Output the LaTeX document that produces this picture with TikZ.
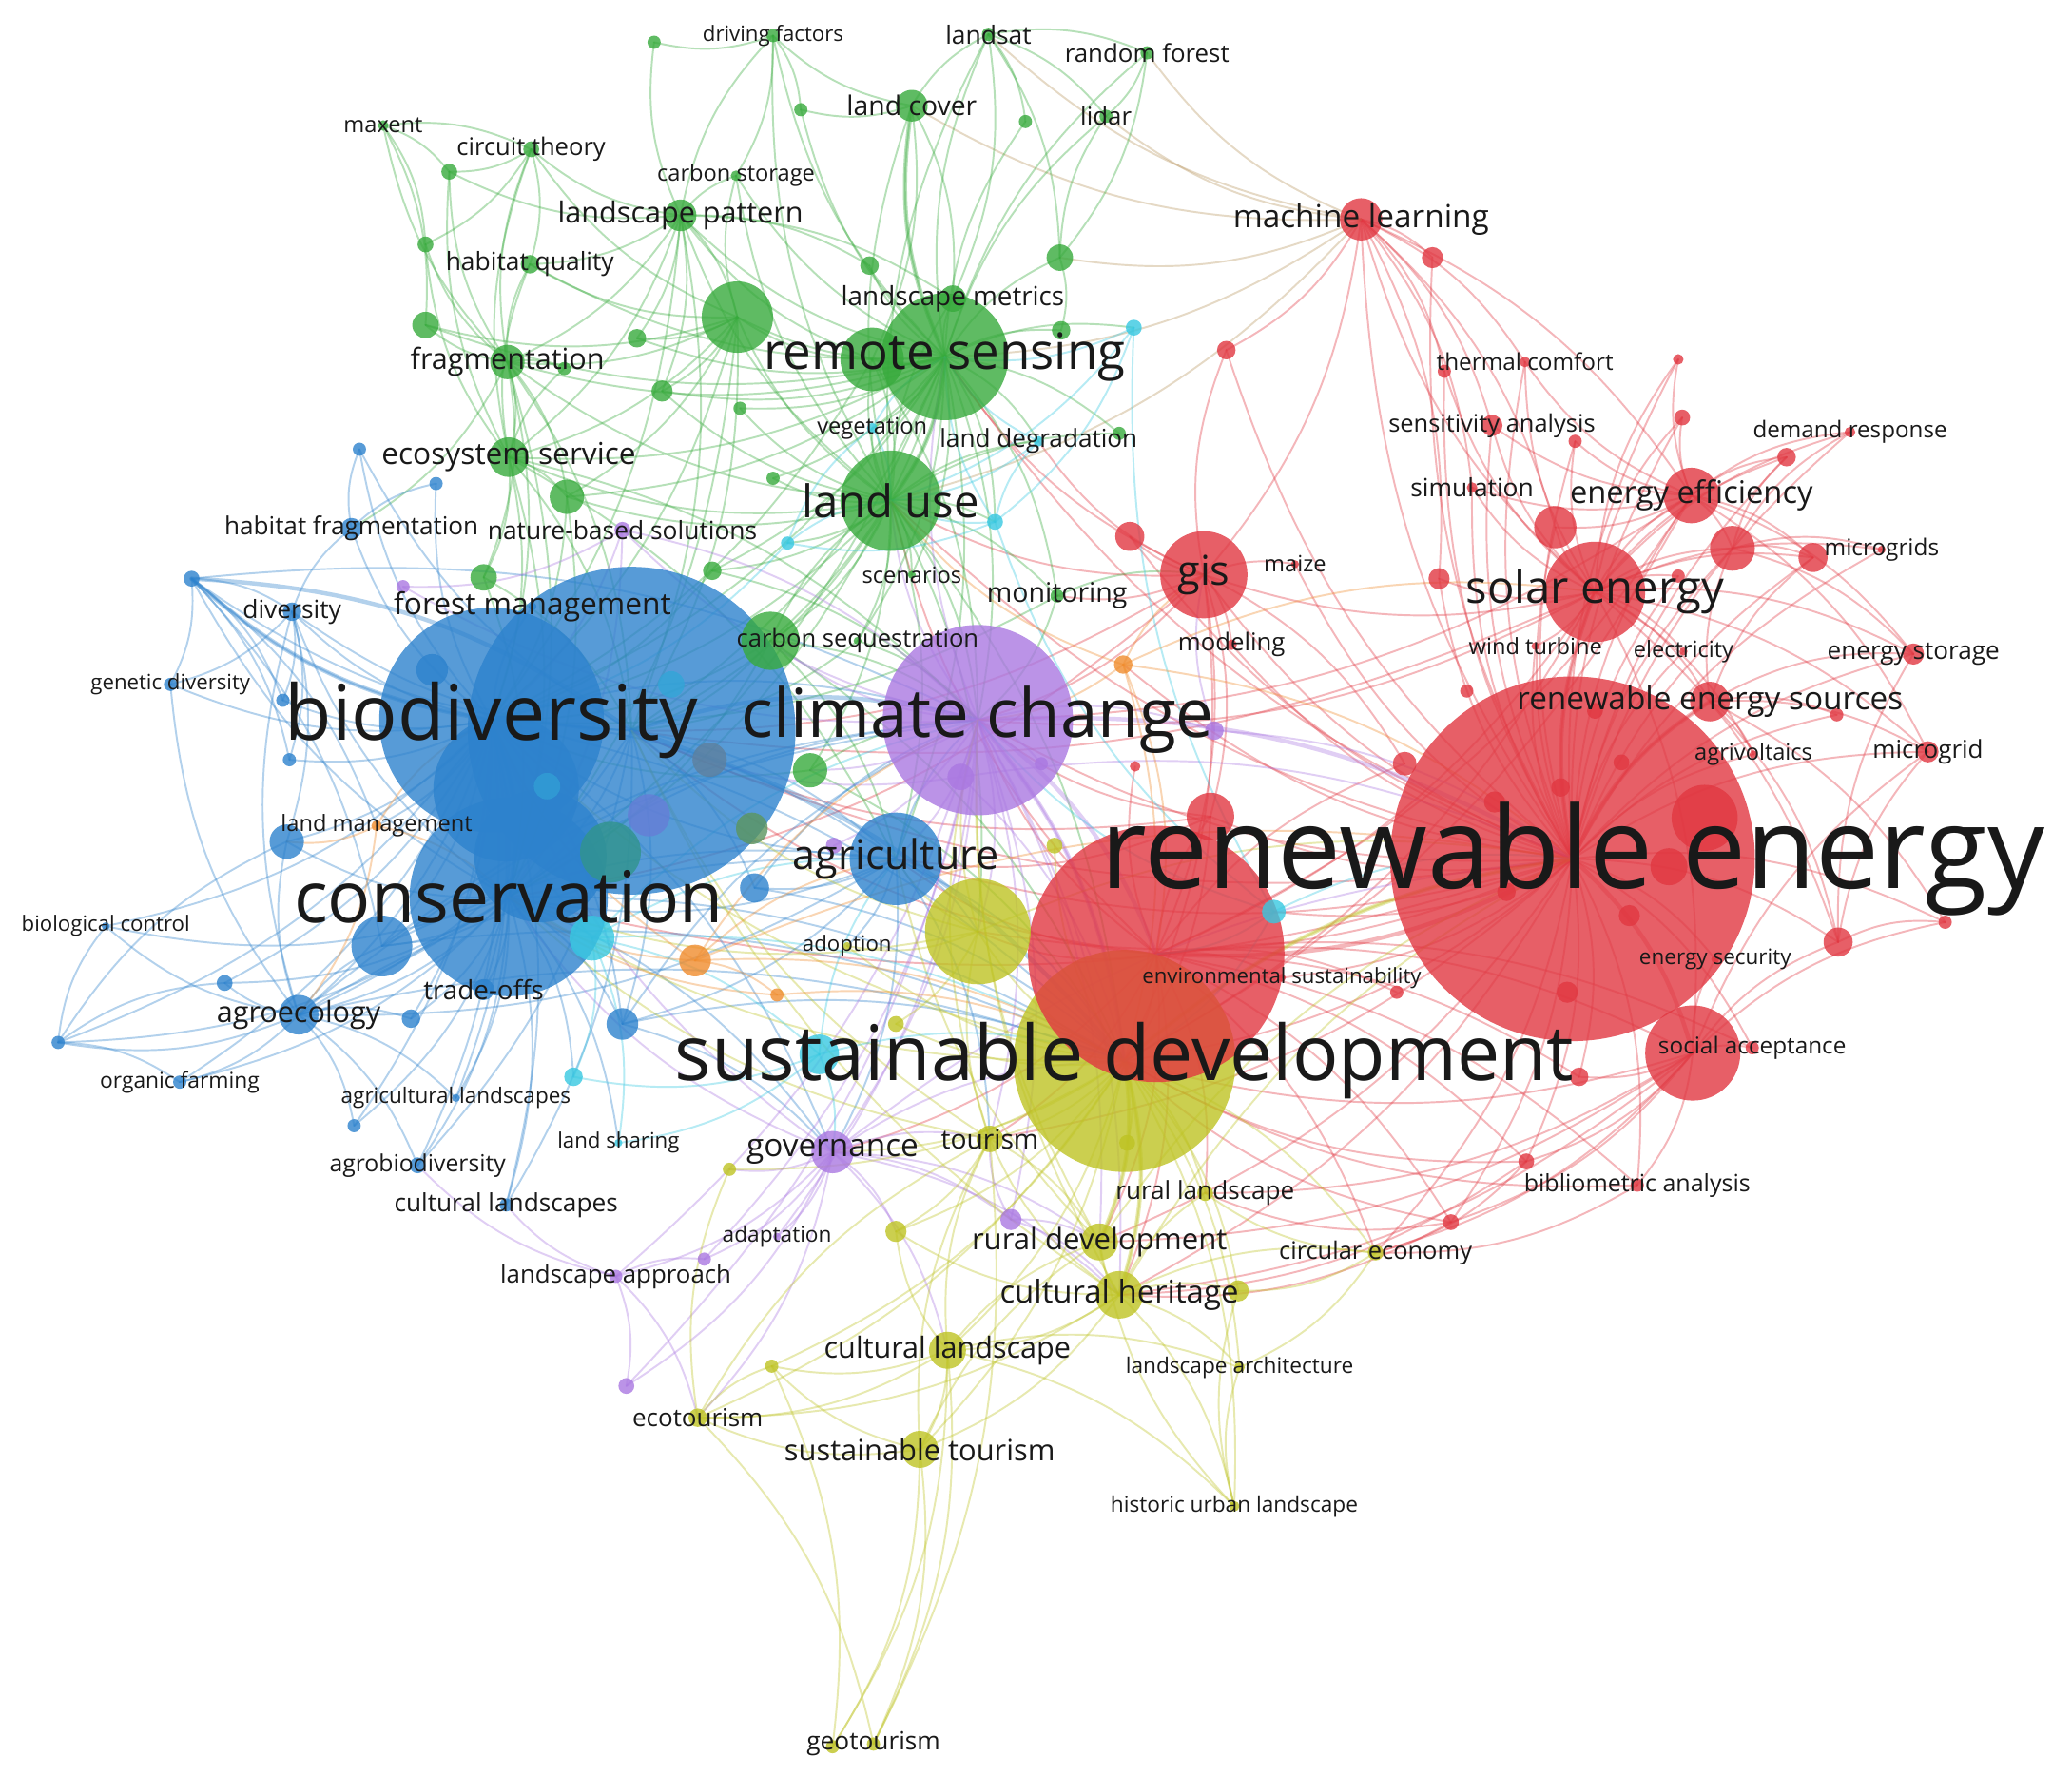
\documentclass[tikz,border=0pt]{standalone}
\usepackage{fontspec}
\setmainfont{Open Sans}
\definecolor{kwred}{RGB}{225,55,65}
\definecolor{kwgreen}{RGB}{55,170,60}
\definecolor{kwblue}{RGB}{45,130,205}
\definecolor{kwpurple}{RGB}{170,120,225}
\definecolor{kwyellow}{RGB}{190,195,35}
\definecolor{kwcyan}{RGB}{55,200,225}
\definecolor{kworange}{RGB}{240,140,45}
\definecolor{kwtan}{RGB}{185,150,95}
\pgfdeclarelayer{edges}
\pgfdeclarelayer{labels}
\pgfsetlayers{edges,main,labels}
\tikzset{
  keyword/.style = {circle, inner sep=0pt, draw=none, fill opacity=0.8},
  term/.style = {inner sep=0pt, text=black!90},
  link/.style = {line width=1.4pt, draw opacity=0.36, line cap=round},
  strong/.style = {line width=3.2pt},
  red link/.style = {link, draw=kwred},
  green link/.style = {link, draw=kwgreen},
  blue link/.style = {link, draw=kwblue},
  purple link/.style = {link, draw=kwpurple},
  yellow link/.style = {link, draw=kwyellow},
  cyan link/.style = {link, draw=kwcyan},
  orange link/.style = {link, draw=kworange},
  mixed link/.style = {link, draw=kwtan},
}
\newcommand{\kwdot}[4]{%
  %% A keyword circle without label: name, position, radius, colour
  \node [keyword, fill=#4, minimum size=2*#3] (#1) at (#2) {};
}
\newcommand{\kwnode}[6]{%
  %% A keyword circle with its label on top:
  %%    1. Name  2. Position  3. Radius  4. Colour  5. Label  6. Font size
  \kwdot{#1}{#2}{#3}{#4}
  \begin{pgfonlayer}{labels}
    \node [term, font={\fontsize{#6}{#6}\selectfont}] (#1_label) at (#2) {#5};
  \end{pgfonlayer}
}
\newcommand{\kwlinks}[3]{%
  %% Links from one keyword to a list of keywords
  \foreach \kwto in {#3}{%
    \draw [#1] (#2.center) to [bend left=16] (\kwto.center);
  }%
}

\begin{document}
\begin{tikzpicture}[x=1pt, y=-1pt]
  \useasboundingbox (0,0) rectangle (1568,1344);
  \begin{pgfonlayer}{edges}
    \fill [white] (0,0) rectangle (1568,1344);
  \end{pgfonlayer}

  %% Largest circles first
  \kwnode{sustdev}{851,803}{84}{kwyellow}{sustainable development}{58}
  \kwdot{energyB}{875,722}{97}{kwred}
  \kwnode{renewable}{1190,650}{138}{kwred}{renewable energy}{86}
  \kwdot{bioB}{478,553}{124}{kwblue}
  \kwnode{biodiversity}{372,545}{85}{kwblue}{biodiversity}{58}
  \kwdot{bC}{383,597}{55}{kwblue}
  \kwdot{bD}{409,648}{50}{kwblue}
  \kwnode{conservation}{385,679}{75}{kwblue}{conservation}{54}
  \kwnode{climate}{740,545}{72}{kwpurple}{climate change}{51}
  \kwnode{remote}{715,270}{48}{kwgreen}{remote sensing}{38}
  \kwnode{landuse}{674,379}{38}{kwgreen}{land use}{34}
  \kwnode{agriculture}{678,650}{35}{kwblue}{agriculture}{31}
  \kwdot{yA}{740,705}{40}{kwyellow}
  \kwnode{solar}{1207,448}{38}{kwred}{solar energy}{34}
  \kwdot{socialB}{1281,797}{36}{kwred}
  \kwnode{gis}{911,435}{33}{kwred}{gis}{31}

  %% Red cluster
  \kwdot{rA}{1290,619}{25}{kwred}
  \kwdot{rB}{1263,656}{14}{kwred}
  \kwdot{rC}{1177,399}{16}{kwred}
  \kwdot{rD}{1311,415}{17}{kwred}
  \kwdot{rE}{1372,422}{11}{kwred}
  \kwdot{rF}{916,618}{18}{kwred}
  \kwdot{rG}{855,406}{11}{kwred}
  \kwdot{rH}{1391,713}{11}{kwred}
  \kwdot{rI}{1084,195}{8}{kwred}
  \kwdot{rJ}{928,265}{7}{kwred}
  \kwdot{rK}{1089,438}{8}{kwred}
  \kwdot{rL}{1063,578}{9}{kwred}
  \kwdot{rM}{1352,346}{7}{kwred}
  \kwdot{rN}{1273,316}{6}{kwred}
  \kwdot{rO}{1270,272}{4}{kwred}
  \kwdot{rP}{1093,281}{5}{kwred}
  \kwdot{rQ}{1192,334}{5}{kwred}
  \kwdot{rR}{1270,436}{5}{kwred}
  \kwdot{rS}{1110,523}{5}{kwred}
  \kwdot{rT}{1390,541}{5}{kwred}
  \kwdot{rU}{1472,698}{5}{kwred}
  \kwdot{rV}{1155,879}{6}{kwred}
  \kwdot{rW}{1098,925}{6}{kwred}
  \kwdot{rX}{1195,815}{7}{kwred}
  \kwdot{rY}{1057,751}{5}{kwred}
  \kwdot{rZ}{859,580}{4}{kwred}
  \kwdot{rAa}{1181,596}{7}{kwred}
  \kwdot{rAb}{1227,577}{6}{kwred}
  \kwdot{rAc}{1131,607}{8}{kwred}
  \kwdot{rAd}{1233,693}{8}{kwred}
  \kwdot{rAe}{1186,751}{8}{kwred}
  \kwdot{rAf}{1140,675}{7}{kwred}
  \kwdot{rAg}{1207,538}{6}{kwred}
  \kwnode{sources}{1294,531}{15}{kwred}{renewable energy sources}{24}
  \kwnode{efficiency}{1280,375}{21}{kwred}{energy efficiency}{23.5}
  \kwnode{machine}{1030,166}{16}{kwred}{machine learning}{24}
  \kwnode{social}{1326,793}{5}{kwred}{social acceptance}{17.5}
  \kwnode{thermal}{1154,274}{4}{kwred}{thermal comfort}{17.5}
  \kwnode{sensitivity}{1129,322}{8}{kwred}{sensitivity analysis}{18.3}
  \kwnode{demand}{1400,327}{4}{kwred}{demand response}{17.4}
  \kwnode{simulation}{1114,369}{4}{kwred}{simulation}{19}
  \kwnode{microgrids}{1424,416}{3}{kwred}{microgrids}{17.5}
  \kwnode{storage}{1448,495}{8}{kwred}{energy storage}{18.8}
  \kwnode{microgrid}{1459,569}{8}{kwred}{microgrid}{18.7}
  \kwnode{agrivoltaics}{1327,571}{3}{kwred}{agrivoltaics}{17}
  \kwnode{electricity}{1274,493}{3}{kwred}{electricity}{17}
  \kwnode{wind}{1162,489}{3}{kwred}{wind turbine}{17}
  \kwnode{security}{1298,726}{3}{kwred}{energy security}{16.2}
  \kwnode{envsust}{970,740}{3}{kwred}{environmental sustainability}{16}
  \kwnode{biblio}{1239,897}{5}{kwred}{bibliometric analysis}{18}
  \kwnode{maize}{980,427}{3}{kwred}{maize}{17}
  \kwnode{modeling}{932,488}{4}{kwred}{modeling}{18.5}

  %% Green cluster
  \kwdot{gA}{660,272}{24}{kwgreen}
  \kwdot{gB}{558,240}{27}{kwgreen}
  \kwdot{gC}{495,32}{5}{kwgreen}
  \kwdot{gD}{606,83}{5}{kwgreen}
  \kwdot{gE}{776,92}{5}{kwgreen}
  \kwdot{gF}{658,201}{7}{kwgreen}
  \kwdot{gG}{802,195}{10}{kwgreen}
  \kwdot{gH}{803,250}{7}{kwgreen}
  \kwdot{gI}{501,296}{8}{kwgreen}
  \kwdot{gJ}{560,309}{5}{kwgreen}
  \kwdot{gK}{585,362}{5}{kwgreen}
  \kwdot{gL}{539,432}{7}{kwgreen}
  \kwdot{gM}{322,246}{10}{kwgreen}
  \kwdot{gN}{322,185}{6}{kwgreen}
  \kwdot{gO}{340,130}{6}{kwgreen}
  \kwdot{gP}{482,256}{7}{kwgreen}
  \kwdot{gR}{429,376}{13}{kwgreen}
  \kwdot{gS}{366,437}{10}{kwgreen}
  \kwdot{gT}{583,485}{22}{kwgreen}
  \kwdot{gU}{613,583}{13}{kwgreen}
  \kwdot{gV}{427,279}{5}{kwgreen}
  \kwdot{gW}{847,328}{5}{kwgreen}
  \kwnode{metrics}{721,226}{10}{kwgreen}{landscape metrics}{20}
  \kwnode{pattern}{515,163}{12}{kwgreen}{landscape pattern}{22}
  \kwnode{cover}{690,80}{12}{kwgreen}{land cover}{20.4}
  \kwnode{landsat}{748,26}{5}{kwgreen}{landsat}{19}
  \kwnode{forest}{868,40}{5}{kwgreen}{random forest}{18.6}
  \kwnode{lidar}{837,88}{5}{kwgreen}{lidar}{18.6}
  \kwnode{driving}{585,27}{5}{kwgreen}{driving factors}{16}
  \kwnode{storageC}{557,133}{4}{kwgreen}{carbon storage}{17}
  \kwnode{scenarios}{690,435}{3}{kwgreen}{scenarios}{17}
  \kwnode{monitoring}{800,451}{5}{kwgreen}{monitoring}{20.5}
  \kwnode{sequestration}{649,485}{3}{kwgreen}{carbon sequestration}{18.4}
  \kwnode{fragmentation}{384,274}{13}{kwgreen}{fragmentation}{22}
  \kwnode{circuit}{402,113}{6}{kwgreen}{circuit theory}{18.4}
  \kwnode{maxent}{290,95}{4}{kwgreen}{maxent}{17}
  \kwnode{quality}{401,200}{7}{kwgreen}{habitat quality}{19}
  \kwnode{ecoservice}{385,346}{15}{kwgreen}{ecosystem service}{22.8}

  %% Blue cluster
  \kwdot{bF}{289,716}{23}{kwblue}
  \kwdot{bG}{217,637}{13}{kwblue}
  \kwdot{bH}{145,438}{6}{kwblue}
  \kwdot{bI}{272,340}{5}{kwblue}
  \kwdot{bJ}{330,366}{5}{kwblue}
  \kwdot{bK}{214,530}{5}{kwblue}
  \kwdot{bL}{219,575}{5}{kwblue}
  \kwdot{bM}{170,744}{6}{kwblue}
  \kwdot{bN}{44,789}{5}{kwblue}
  \kwdot{bO}{311,771}{7}{kwblue}
  \kwdot{bP}{268,852}{5}{kwblue}
  \kwdot{bQ}{471,775}{12}{kwblue}
  \kwdot{bR}{571,672}{11}{kwblue}
  \kwdot{bS}{327,507}{12}{kwblue}
  \kwdot{bT}{491,617}{16}{kwblue!55!kwpurple}
  \kwdot{bU}{537,575}{13}{gray!60!kwblue}
  \kwdot{bV}{508,518}{10}{kwcyan!50!kwblue}
  \kwdot{bW}{462,645}{23}{kwgreen!45!kwblue}
  \kwdot{bX}{569,627}{12}{gray!50!kwgreen}
  \kwdot{bY}{414,595}{10}{kwcyan!40!kwblue}
  \kwnode{agroecology}{226,768}{15}{kwblue}{agroecology}{22}
  \kwnode{tradeoffs}{366,749}{8}{kwblue}{trade-offs}{20}
  \kwnode{diversity}{221,463}{7}{kwblue}{diversity}{19}
  \kwnode{habitatfrag}{266,400}{8}{kwblue}{habitat fragmentation}{18.8}
  \kwnode{genetic}{129,518}{5}{kwblue}{genetic diversity}{16}
  \kwnode{biocontrol}{80,701}{3}{kwblue}{biological control}{16}
  \kwnode{organic}{136,819}{5}{kwblue}{organic farming}{16.4}
  \kwnode{agrilandscapes}{345,831}{3}{kwblue}{agricultural landscapes}{16.2}
  \kwnode{agrobiodiversity}{316,882}{6}{kwblue}{agrobiodiversity}{17.8}
  \kwnode{culturallandscapes}{383,912}{5}{kwblue}{cultural landscapes}{18.9}
  \kwnode{forestmgmt}{403,459}{3}{kwblue}{forest management}{22.8}

  %% Cyan and orange clusters
  \kwdot{cA}{448,710}{17}{kwcyan}
  \kwdot{cB}{434,815}{7}{kwcyan}
  \kwdot{cC}{620,798}{15}{kwcyan}
  \kwdot{cD}{964,690}{9}{kwcyan}
  \kwdot{cE}{858,248}{6}{kwcyan}
  \kwdot{cF}{753,395}{6}{kwcyan}
  \kwdot{cG}{596,411}{5}{kwcyan}
  \kwnode{vegetation}{660,324}{4}{kwcyan}{vegetation}{17}
  \kwnode{degradation}{786,334}{4}{kwcyan}{land degradation}{18.8}
  \kwnode{sharing}{468,865}{3}{kwcyan}{land sharing}{16}
  \kwdot{oA}{526,727}{12}{kworange}
  \kwdot{oB}{850,503}{7}{kworange}
  \kwdot{oC}{588,753}{5}{kworange}
  \kwnode{landmgmt}{285,625}{4}{kworange}{land management}{17}

  %% Purple cluster
  \kwdot{pA}{727,588}{10}{kwpurple}
  \kwdot{pB}{919,553}{7}{kwpurple}
  \kwdot{pC}{788,578}{5}{kwpurple}
  \kwdot{pD}{533,953}{5}{kwpurple}
  \kwdot{pE}{474,1049}{6}{kwpurple}
  \kwdot{pF}{765,923}{8}{kwpurple}
  \kwdot{pG}{305,444}{5}{kwpurple}
  \kwdot{pH}{631,640}{6}{kwpurple}
  \kwnode{governance}{630,872}{16}{kwpurple}{governance}{24}
  \kwnode{adaptation}{588,936}{3}{kwpurple}{adaptation}{16.3}
  \kwnode{approach}{466,966}{5}{kwpurple}{landscape approach}{18.6}
  \kwnode{nbs}{471,401}{6}{kwpurple}{nature-based solutions}{19}

  %% Yellow cluster
  \kwdot{yB}{937,977}{8}{kwyellow}
  \kwdot{yC}{678,932}{8}{kwyellow}
  \kwdot{yD}{584,1034}{5}{kwyellow}
  \kwdot{yE}{552,885}{5}{kwyellow}
  \kwdot{yF}{798,640}{6}{kwyellow}
  \kwdot{yG}{630,1322}{5}{kwyellow}
  \kwdot{yH}{678,775}{6}{kwyellow}
  \kwdot{yI}{853,865}{6}{kwyellow}
  \kwnode{tourism}{749,862}{10}{kwyellow}{tourism}{20.3}
  \kwnode{rurallandscape}{912,903}{6}{kwyellow}{rural landscape}{18.8}
  \kwnode{ruraldev}{832,940}{14}{kwyellow}{rural development}{22.4}
  \kwnode{heritage}{847,980}{18}{kwyellow}{cultural heritage}{23.7}
  \kwnode{circular}{1041,948}{6}{kwyellow}{circular economy}{18.3}
  \kwnode{culturallandscape}{717,1022}{14}{kwyellow}{cultural landscape}{22}
  \kwnode{architecture}{938,1035}{4}{kwyellow}{landscape architecture}{16.3}
  \kwnode{ecotourism}{528,1073}{7}{kwyellow}{ecotourism}{18.7}
  \kwnode{susttourism}{696,1097}{14}{kwyellow}{sustainable tourism}{22.2}
  \kwnode{historic}{934,1140}{4}{kwyellow}{historic urban landscape}{16.3}
  \kwnode{geotourism}{661,1320}{5}{kwyellow}{geotourism}{18.9}
  \kwnode{adoption}{641,716}{3}{kwyellow}{adoption}{16}

  %% Co-occurrence links, behind the circles
  \begin{pgfonlayer}{edges}
    \kwlinks{red link}{renewable}{solar,gis,machine,efficiency,sources,social,thermal,sensitivity,demand,simulation,microgrids,storage,microgrid,agrivoltaics,electricity,wind,security,envsust,biblio,maize,modeling,rC,rD,rE,rF,rG,rH,rI,rJ,rK,rM,rN,rO,rP,rQ,rR,rT,rU,rV,rW,rX}
    \kwlinks{red link}{solar}{efficiency,sources,storage,microgrid,microgrids,rC,rD,rE,simulation,sensitivity,thermal,demand,electricity,wind,agrivoltaics,machine,rM,rN,rO,socialB,rK,rQ,rR,rP,rH}
    \kwlinks{red link}{efficiency}{rC,rD,demand,rM,rN,rQ,simulation,microgrid,storage,sensitivity,rO,thermal,rE}
    \kwlinks{red link}{machine}{gis,rI,thermal,sensitivity,rJ,rP,simulation,rK,efficiency,rC}
    \kwlinks{red link}{gis}{rG,maize,modeling,rJ,rF,energyB,rL}
    \kwlinks{red link}{energyB}{rF,rL,envsust,rY,biblio,rW,rV,social,socialB,rX,rZ}
    \kwlinks{red link}{socialB}{biblio,rV,rW,rX,rH,rU,security,social,microgrid}
    \kwlinks{red link}{sources}{microgrid,agrivoltaics,rT,storage,rD,rE,rH,rU}
    \kwlinks{red link}{rD}{microgrids,rM,demand,storage,rE}
    \kwlinks{red link}{rH}{rU,microgrid,storage}
    \kwlinks{red link,strong}{renewable}{solar,energyB,socialB,sources}
    \kwlinks{red link}{renewable}{sustdev,climate,bioB,conservation,landuse,remote,agriculture,yA,tourism,circular,ruraldev,heritage,cD,oB}
    \kwlinks{red link}{energyB}{sustdev,climate,bioB,agriculture,yA,tourism,ruraldev,heritage,circular,rurallandscape,governance,landuse}
    \kwlinks{red link}{gis}{remote,landuse,climate,monitoring,degradation,sustdev,bioB,conservation}
    \kwlinks{red link}{solar}{climate,sustdev,energyB,gis,bioB}
    \kwlinks{red link}{efficiency}{sustdev,climate,energyB}
    \kwlinks{red link}{rF}{climate,sustdev,bioB,agriculture}
    \kwlinks{red link}{socialB}{sustdev,heritage,circular,ruraldev,rurallandscape}
    \kwlinks{red link}{rV}{sustdev,heritage,circular}
    \kwlinks{red link}{rW}{sustdev,rurallandscape,heritage}
    \kwlinks{red link}{biblio}{sustdev,circular}
    \kwlinks{mixed link}{machine}{remote,forest,lidar,landsat,cover,gG,landuse}

    \kwlinks{green link}{remote}{landuse,gA,gB,metrics,pattern,cover,landsat,forest,lidar,driving,storageC,gD,gE,gF,gG,gH,gI,gJ,gK,vegetation,degradation,scenarios,monitoring,fragmentation,ecoservice,quality,gR,gP,gM,cE,cF,gL,sequestration,gT,gW}
    \kwlinks{green link}{landuse}{gA,gB,metrics,pattern,cover,landsat,driving,storageC,gI,gJ,gK,gL,vegetation,degradation,scenarios,monitoring,sequestration,fragmentation,ecoservice,gR,gT,gU,cF,cG,gW}
    \kwlinks{green link}{pattern}{storageC,gB,fragmentation,quality,circuit,gO,gC,gP,gI,metrics,gF,driving,ecoservice}
    \kwlinks{green link}{gB}{fragmentation,quality,ecoservice,gM,gP,gI,storageC,circuit,gR}
    \kwlinks{green link}{fragmentation}{gM,gN,gO,circuit,maxent,quality,ecoservice,gR,gV,gS,habitatfrag}
    \kwlinks{green link}{ecoservice}{quality,gN,gO,gR,gS,circuit,gV}
    \kwlinks{green link}{maxent}{gO,circuit,gN,gM}
    \kwlinks{green link}{circuit}{gO,quality,gN}
    \kwlinks{green link}{cover}{landsat,gD,driving,metrics,gA}
    \kwlinks{green link}{landsat}{lidar,forest,gE,gG,metrics}
    \kwlinks{green link}{forest}{lidar,gG}
    \kwlinks{green link}{driving}{gC,gD,storageC}
    \kwlinks{green link}{gG}{lidar,gH}
    \kwlinks{green link}{landuse}{biodiversity,bioB,conservation,climate,sustdev,agriculture,yA}
    \kwlinks{green link}{remote}{biodiversity,bioB,climate,conservation,agriculture}
    \kwlinks{green link}{gB}{biodiversity,bioB,conservation}
    \kwlinks{green link}{fragmentation}{biodiversity,conservation,bioB}
    \kwlinks{green link}{ecoservice}{biodiversity,bioB,conservation,agriculture,climate}
    \kwlinks{green link}{pattern}{biodiversity,bioB}
    \kwlinks{green link}{gT}{biodiversity,climate,sustdev,conservation,agriculture,bioB,landuse}
    \kwlinks{green link}{gR}{biodiversity,conservation}
    \kwlinks{green link}{gA}{biodiversity,climate,landuse,gB,pattern}
    \kwlinks{green link}{gU}{climate,biodiversity,sustdev}
    \kwlinks{green link}{gL}{biodiversity,climate}
    \kwlinks{green link}{gS}{conservation,bioB}
    \kwlinks{green link}{monitoring}{climate,biodiversity,gis}
    \kwlinks{green link}{sequestration}{climate,bioB}
    \kwlinks{green link,strong}{remote}{landuse,gA,cover}

    \kwlinks{blue link}{biodiversity}{conservation,diversity,genetic,habitatfrag,bH,bI,bJ,bK,bL,landmgmt,bM,bN,organic,biocontrol,agroecology,tradeoffs,bF,bG,bO,agrilandscapes,bP,agrobiodiversity,culturallandscapes,bQ,forestmgmt}
    \kwlinks{blue link}{bioB}{conservation,agriculture,diversity,bH,bI,bQ,bR,agroecology,agrobiodiversity,culturallandscapes}
    \kwlinks{blue link}{conservation}{agroecology,bF,bG,bM,bO,tradeoffs,agrilandscapes,agrobiodiversity,culturallandscapes,bP,bN,organic,biocontrol,diversity,bH,bQ,sharing,cB}
    \kwlinks{blue link}{bH}{diversity,genetic,bK,bL,bF,landmgmt,climate}
    \kwlinks{blue link}{agroecology}{biocontrol,bN,organic,bM,bP,agrobiodiversity,agrilandscapes,bO,bF,bG,diversity,genetic,climate,sustdev,agriculture}
    \kwlinks{blue link}{bN}{biocontrol,organic,bM,bG}
    \kwlinks{blue link}{diversity}{bK,bL,genetic,bG,habitatfrag}
    \kwlinks{blue link}{habitatfrag}{bI,bJ}
    \kwlinks{blue link}{agriculture}{agroecology,bQ,bR,conservation,biodiversity,climate,sustdev,yA,adoption,governance,tourism}
    \kwlinks{blue link}{biodiversity}{climate,sustdev,agriculture,governance}
    \kwlinks{blue link}{conservation}{climate,sustdev,governance}
    \kwlinks{blue link}{bQ}{sustdev,climate,governance}
    \kwlinks{blue link}{bR}{climate,sustdev}
    \kwlinks{blue link}{bF}{climate,sustdev,agriculture}
    \kwlinks{blue link,strong}{bioB}{climate,sustdev}
    \kwlinks{blue link,strong}{biodiversity}{bH,conservation}
    \kwlinks{blue link,strong}{bH}{bioB}

    \kwlinks{purple link}{climate}{sustdev,agriculture,governance,adaptation,approach,pA,pB,pC,pE,pF,pG,nbs,pD,yA,heritage,ruraldev,tourism,landuse,remote,gT,gU,pH}
    \kwlinks{purple link}{governance}{approach,adaptation,pD,pE,pF,ecotourism,ruraldev,heritage,sustdev,tourism,yC,yE,culturallandscape,biodiversity,conservation,renewable}
    \kwlinks{purple link}{approach}{pE,ecotourism,agrobiodiversity,culturallandscapes,pD}
    \kwlinks{purple link}{pF}{ruraldev,heritage,tourism}
    \kwlinks{purple link}{nbs}{pG,biodiversity,conservation,climate}
    \kwlinks{purple link}{pA}{renewable,sustdev,bioB}
    \kwlinks{purple link}{pB}{renewable,gis}
    \kwlinks{purple link,strong}{climate}{renewable,energyB,sustdev}

    \kwlinks{yellow link}{sustdev}{yA,tourism,rurallandscape,ruraldev,heritage,circular,culturallandscape,architecture,ecotourism,susttourism,historic,yB,yC,yD,yE,yF,yI,yH,adoption,governance,conservation,biodiversity,renewable}
    \kwlinks{yellow link}{heritage}{ruraldev,rurallandscape,culturallandscape,architecture,historic,yB,susttourism,tourism,circular,yC,ecotourism,renewable,climate,bioB}
    \kwlinks{yellow link}{culturallandscape}{susttourism,ruraldev,tourism,yC,yD,ecotourism,architecture,historic,geotourism,yG}
    \kwlinks{yellow link}{susttourism}{geotourism,yG,ecotourism,tourism,yD,ruraldev}
    \kwlinks{yellow link}{ecotourism}{geotourism,yD,yE,tourism}
    \kwlinks{yellow link}{historic}{architecture,yB,ruraldev}
    \kwlinks{yellow link}{tourism}{ruraldev,yC,yA,geotourism,climate,bioB,conservation}
    \kwlinks{yellow link}{ruraldev}{agriculture,climate,renewable}
    \kwlinks{yellow link}{yD}{yG}
    \kwlinks{yellow link}{circular}{yB,rurallandscape,architecture}
    \kwlinks{yellow link}{yA}{agriculture,adoption,yH,climate,conservation,renewable,bioB}
    \kwlinks{yellow link,strong}{sustdev}{renewable,heritage,ruraldev}

    \kwlinks{cyan link}{cA}{biodiversity,conservation,cB,cC,sharing,agriculture,climate,sustdev}
    \kwlinks{cyan link}{cC}{sustdev,cB,governance,sharing,agriculture}
    \kwlinks{cyan link}{cD}{renewable,energyB,sustdev,climate,cF,cE}
    \kwlinks{cyan link}{cE}{remote,landuse,cF}
    \kwlinks{cyan link}{cF}{landuse,remote,cG,degradation}
    \kwlinks{cyan link}{cG}{landuse,vegetation,biodiversity}
    \kwlinks{cyan link}{vegetation}{remote,landuse}
    \kwlinks{cyan link}{degradation}{landuse,remote}

    \kwlinks{orange link}{oA}{conservation,biodiversity,sustdev,climate,oC,renewable,agriculture}
    \kwlinks{orange link}{oB}{climate,renewable,energyB,gis,sustdev,landuse,solar}
    \kwlinks{orange link}{oC}{sustdev,conservation}
    \kwlinks{orange link}{landmgmt}{biodiversity,conservation,agroecology,bG}
  \end{pgfonlayer}
\end{tikzpicture}
\end{document}
